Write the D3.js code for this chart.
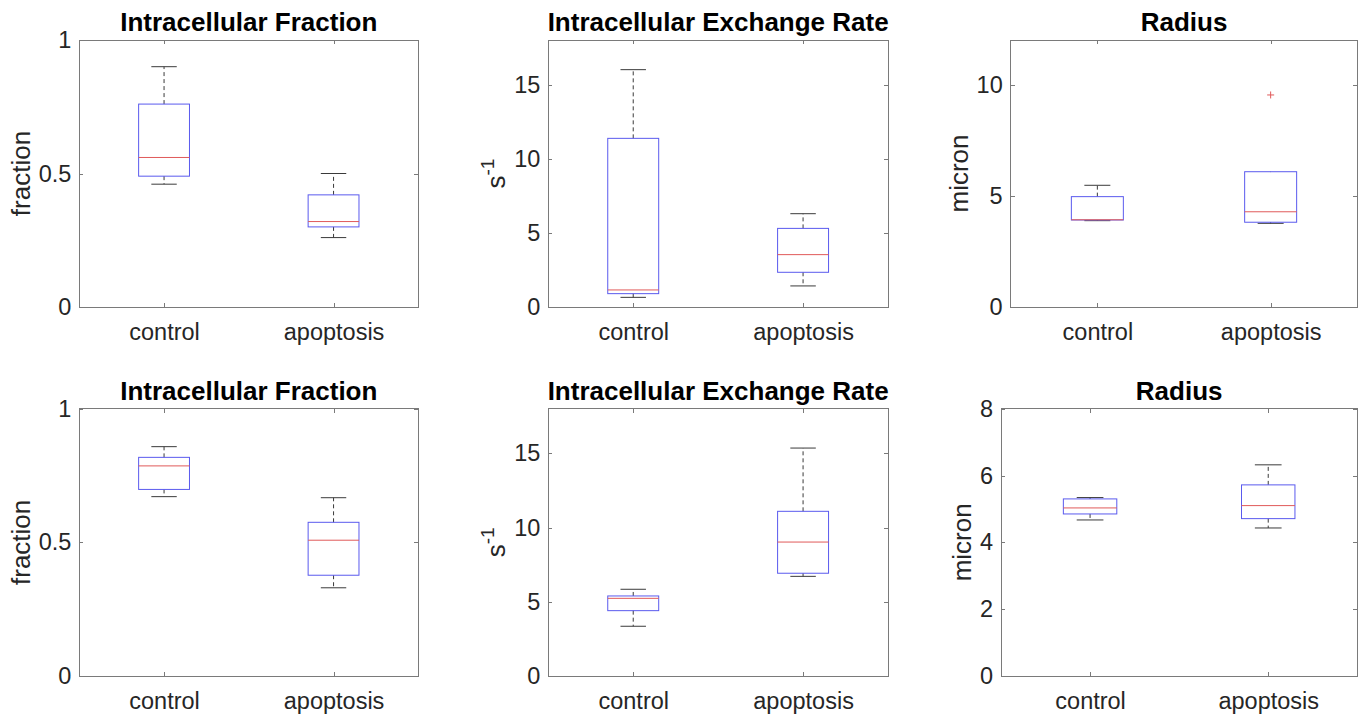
<!DOCTYPE html>
<html>
<head>
<meta charset="utf-8">
<script src="https://cdn.jsdelivr.net/npm/d3@7"></script>
<style>
  body { margin: 0; background: #fff; }
  svg { display: block; font-family: "Liberation Sans", Arial, Helvetica, sans-serif; }
</style>
</head>
<body>
<div id="chart"></div>
<script>
// boxplots: control vs apoptosis, two rows of three panels (matlab look)

const groups = ['control', 'apoptosis'];
const titles = ['Intracellular Fraction', 'Intracellular Exchange Rate', 'Radius',
                'Intracellular Fraction', 'Intracellular Exchange Rate', 'Radius'];
const yLabels = ['fraction', 's-1', 'micron', 'fraction', 's-1', 'micron'];
const yDomains = [[0, 1], [0, 18], [0, 12], [0, 1], [0, 18], [0, 8]];
const yTicks = [[0, 0.5, 1], [0, 5, 10, 15], [0, 5, 10], [0, 0.5, 1], [0, 5, 10, 15], [0, 2, 4, 6, 8]];

// [lower whisker, q1, median, q3, upper whisker] for control, apoptosis
const fractionTop = [[0.46, 0.49, 0.56, 0.76, 0.90], [0.26, 0.30, 0.32, 0.42, 0.50]];
const rateTop     = [[0.65, 0.90, 1.15, 11.37, 16.0], [1.42, 2.34, 3.53, 5.30, 6.29]];
const radiusTop   = [[3.88, 3.91, 3.92, 4.96, 5.47], [3.76, 3.81, 4.28, 6.08, 6.08]];
const fractionBot = [[0.671, 0.698, 0.786, 0.818, 0.858], [0.33, 0.377, 0.508, 0.575, 0.667]];
const rateBot     = [[3.35, 4.40, 5.23, 5.39, 5.84], [6.71, 6.92, 9.02, 11.09, 15.35]];
const radiusBot   = [[4.67, 4.85, 5.03, 5.30, 5.34], [4.43, 4.71, 5.10, 5.72, 6.32]];
const stats = [fractionTop, rateTop, radiusTop, fractionBot, rateBot, radiusBot];

// outliers per panel: [group index, value]
const outliers = [[], [], [[1, 9.53]], [], [], []];

// panel frames in pixels
const frames = [
  {l: 79.3, r: 418.3, t: 40, b: 307},
  {l: 548.3, r: 888, t: 40, b: 307},
  {l: 1010.7, r: 1357.3, t: 40, b: 307},
  {l: 79.3, r: 418.3, t: 408.7, b: 676},
  {l: 548.3, r: 888, t: 408.7, b: 676},
  {l: 1001, r: 1357.3, t: 408.7, b: 676}
];

const W = 1363, H = 726;
const axisColor = '#7a7a7a';
const textColor = '#262626';
const boxColor = '#5a5aee';
const medColor = '#e05a5a';
const whiskColor = '#3a3a3a';
const tickFont = 23.5, labelFont = 26;

const svg = d3.select('#chart').append('svg')
  .attr('width', W).attr('height', H)
  .attr('viewBox', `0 0 ${W} ${H}`);

svg.append('rect').attr('width', W).attr('height', H).attr('fill', '#fff');

frames.forEach((f, i) => {
  const x = d3.scaleLinear().domain([0.5, 2.5]).range([f.l, f.r]);
  const y = d3.scaleLinear().domain(yDomains[i]).range([f.b, f.t]);
  const g = svg.append('g');

  // axes box
  g.append('rect')
    .attr('x', f.l).attr('y', f.t)
    .attr('width', f.r - f.l).attr('height', f.b - f.t)
    .attr('fill', 'none').attr('stroke', axisColor).attr('stroke-width', 1)
    .attr('shape-rendering', 'crispEdges');

  // left axis with labels, ticks inward
  const left = g.append('g')
    .attr('transform', `translate(${f.l},0)`)
    .call(d3.axisLeft(y).tickValues(yTicks[i]).tickSizeInner(-4).tickSizeOuter(0).tickPadding(8)
      .tickFormat(d3.format('~g')));
  // right ticks
  const right = g.append('g')
    .attr('transform', `translate(${f.r},0)`)
    .call(d3.axisRight(y).tickValues(yTicks[i]).tickSizeInner(-4).tickSizeOuter(0).tickFormat(''));
  // bottom axis
  const bottom = g.append('g')
    .attr('transform', `translate(0,${f.b})`)
    .call(d3.axisBottom(x).tickValues([1, 2]).tickSizeInner(-4).tickSizeOuter(0).tickPadding(16)
      .tickFormat((d) => groups[d - 1]));
  const top = g.append('g')
    .attr('transform', `translate(0,${f.t})`)
    .call(d3.axisTop(x).tickValues([1, 2]).tickSizeInner(-4).tickSizeOuter(0).tickFormat(''));

  [left, right, bottom, top].forEach(a => {
    a.select('.domain').remove();
    a.selectAll('line').attr('stroke', axisColor).attr('shape-rendering', 'crispEdges');
    a.selectAll('text').attr('fill', textColor).style('font-size', tickFont + 'px')
      .style('font-family', '"Liberation Sans", Arial, Helvetica, sans-serif');
  });

  // title
  g.append('text')
    .attr('x', (f.l + f.r) / 2).attr('y', f.t - 9)
    .attr('text-anchor', 'middle')
    .attr('font-weight', 'bold').attr('font-size', labelFont)
    .attr('fill', '#000')
    .text(titles[i]);

  // y label, placed outside the widest tick label
  let maxW = 0;
  left.selectAll('text').each(function() { maxW = Math.max(maxW, this.getBBox().width); });
  const lx = f.l - 8 - maxW - 9;
  const yl = g.append('text')
    .attr('transform', `translate(${lx},${(f.t + f.b) / 2}) rotate(-90)`)
    .attr('text-anchor', 'middle')
    .attr('font-size', labelFont)
    .attr('fill', textColor);
  if (yLabels[i] === 's-1') {
    yl.append('tspan').text('s');
    yl.append('tspan').attr('dy', -11).attr('font-size', 19).text('-1');
  } else {
    yl.text(yLabels[i]);
  }

  // boxes
  const halfBox = 0.15, halfCap = 0.075;
  stats[i].forEach((s, k) => {
    const c = k + 1;
    const [lo, q1, med, q3, hi] = s;
    const bg = g.append('g');
    // whiskers
    bg.append('line')
      .attr('x1', x(c)).attr('x2', x(c)).attr('y1', y(q3)).attr('y2', y(hi))
      .attr('stroke', whiskColor).attr('stroke-dasharray', '4,3');
    bg.append('line')
      .attr('x1', x(c)).attr('x2', x(c)).attr('y1', y(q1)).attr('y2', y(lo))
      .attr('stroke', whiskColor).attr('stroke-dasharray', '4,3');
    // caps (skipped when the whisker ends at the box edge)
    [[lo, q1], [hi, q3]].forEach(([v, edge]) => {
      if (v === edge) return;
      bg.append('line')
        .attr('x1', x(c - halfCap)).attr('x2', x(c + halfCap))
        .attr('y1', y(v)).attr('y2', y(v))
        .attr('stroke', whiskColor);
    });
    // box
    bg.append('rect')
      .attr('x', x(c - halfBox)).attr('y', y(q3))
      .attr('width', x(c + halfBox) - x(c - halfBox))
      .attr('height', y(q1) - y(q3))
      .attr('fill', 'none').attr('stroke', boxColor);
    // median
    bg.append('line')
      .attr('x1', x(c - halfBox)).attr('x2', x(c + halfBox))
      .attr('y1', y(med)).attr('y2', y(med))
      .attr('stroke', medColor);
  });

  // outliers as '+'
  outliers[i].forEach(([k, v]) => {
    const cx = x(k + 1), cy = y(v);
    g.append('path')
      .attr('d', `M${cx - 3.5},${cy}H${cx + 3.5}M${cx},${cy - 3.5}V${cy + 3.5}`)
      .attr('stroke', medColor).attr('fill', 'none');
  });
});
</script>
</body>
</html>
